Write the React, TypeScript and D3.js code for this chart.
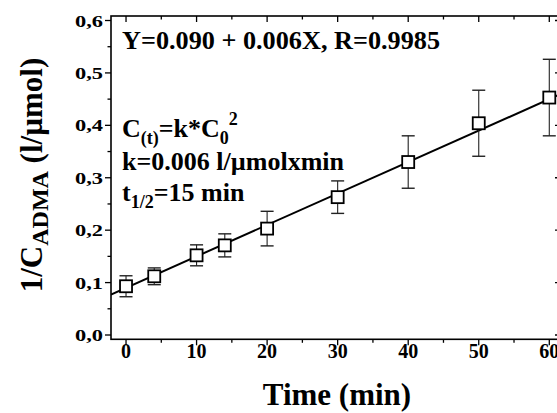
import React, { useEffect, useRef } from 'react';
import * as d3 from 'd3';

// Data
const times = [0, 4, 10, 14, 20, 30, 40, 50, 60];
const values = [0.093, 0.112, 0.152, 0.171, 0.203, 0.263, 0.33, 0.404, 0.453];
const errors = [0.02, 0.016, 0.02, 0.022, 0.033, 0.031, 0.05, 0.063, 0.073];
const fitIntercept = 0.09;
const fitSlope = 0.006;
const xTicks = [0, 10, 20, 30, 40, 50, 60];
const xMinor = [5, 15, 25, 35, 45, 55];
const yTicks = [0, 0.1, 0.2, 0.3, 0.4, 0.5, 0.6];
const yMinor = [0.05, 0.15, 0.25, 0.35, 0.45, 0.55];

const FONT = "'Liberation Serif', 'Times New Roman', serif";

const App = () => {
  const ref = useRef<SVGSVGElement>(null);

  useEffect(() => {
    const svg = d3.select(ref.current);
    svg.selectAll('*').remove();

    const left = 111, right = 561, top = 16, bottom = 339.3;
    const x = d3.scaleLinear().domain([-2.13, 61.66]).range([left, right]);
    const y = d3.scaleLinear().domain([-0.0082, 0.6086]).range([bottom, top]);

    // Frame
    svg.append('rect')
      .attr('x', left).attr('y', top)
      .attr('width', right - left).attr('height', bottom - top)
      .attr('fill', 'none').attr('stroke', '#000').attr('stroke-width', 1.6);

    // Ticks: outward on left/bottom, inward on top/right
    const tk = svg.append('g').attr('stroke', '#000').attr('stroke-width', 1.3);
    const xt = (vals: number[], len: number) => {
      vals.forEach(v => {
        tk.append('line').attr('x1', x(v)).attr('x2', x(v)).attr('y1', bottom).attr('y2', bottom + len);
        tk.append('line').attr('x1', x(v)).attr('x2', x(v)).attr('y1', top).attr('y2', top + len);
      });
    };
    const yt = (vals: number[], len: number) => {
      vals.forEach(v => {
        tk.append('line').attr('x1', left - len).attr('x2', left).attr('y1', y(v)).attr('y2', y(v));
        tk.append('line').attr('x1', right - len).attr('x2', right).attr('y1', y(v)).attr('y2', y(v));
      });
    };
    xt(xTicks, 6);
    xt(xMinor, 3.5);
    yt(yTicks, 6);
    yt(yMinor, 3.5);

    // Tick labels
    svg.append('g').selectAll('text').data(xTicks).enter().append('text')
      .attr('x', d => x(d)).attr('y', 358)
      .attr('text-anchor', 'middle')
      .attr('font-family', FONT).attr('font-weight', 'bold').attr('font-size', 20)
      .text(d => d);

    svg.append('g').selectAll('text').data(yTicks).enter().append('text')
      .attr('x', 103).attr('y', d => y(d) + 6)
      .attr('text-anchor', 'end')
      .attr('font-family', FONT).attr('font-weight', 'bold').attr('font-size', 17)
      .attr('textLength', 28).attr('lengthAdjust', 'spacingAndGlyphs')
      .text(d => d.toFixed(1).replace('.', ','));

    // Fit line
    const clipId = 'plotclip';
    svg.append('clipPath').attr('id', clipId).append('rect')
      .attr('x', left).attr('y', top).attr('width', right - left).attr('height', bottom - top);
    const [x0, x1] = x.domain();
    svg.append('line')
      .attr('clip-path', `url(#${clipId})`)
      .attr('x1', x(x0)).attr('y1', y(fitIntercept + fitSlope * x0))
      .attr('x2', x(x1)).attr('y2', y(fitIntercept + fitSlope * x1))
      .attr('stroke', '#000').attr('stroke-width', 2);

    // Error bars
    const eb = svg.append('g').attr('stroke', '#222');
    times.forEach((t, i) => {
      const cx = x(t);
      eb.append('line').attr('x1', cx).attr('x2', cx)
        .attr('y1', y(values[i] - errors[i])).attr('y2', y(values[i] + errors[i]))
        .attr('stroke-width', 1.1);
      [values[i] - errors[i], values[i] + errors[i]].forEach(v => {
        eb.append('line').attr('x1', cx - 6.5).attr('x2', cx + 6.5)
          .attr('y1', y(v)).attr('y2', y(v)).attr('stroke-width', 1.4);
      });
    });

    // Markers
    svg.append('g').selectAll('rect').data(times).enter().append('rect')
      .attr('x', d => x(d) - 6).attr('y', (d, i) => y(values[i]) - 6)
      .attr('width', 12).attr('height', 12)
      .attr('fill', '#fff').attr('stroke', '#000').attr('stroke-width', 1.8);

    // Annotations
    const ann = svg.append('g')
      .attr('font-family', FONT).attr('font-weight', 'bold').attr('fill', '#000');
    ann.append('text').attr('x', 122).attr('y', 49).attr('font-size', 25)
      .attr('textLength', 318).attr('lengthAdjust', 'spacingAndGlyphs')
      .text('Y=0.090 + 0.006X, R=0.9985');

    const l2 = ann.append('text').attr('x', 122).attr('y', 137).attr('font-size', 26);
    l2.append('tspan').text('C');
    l2.append('tspan').attr('font-size', 18).attr('dy', 7).text('(t)');
    l2.append('tspan').attr('dy', -7).text('=k*C');
    l2.append('tspan').attr('font-size', 18).attr('dy', 7).text('0');
    l2.append('tspan').attr('font-size', 18).attr('dy', -19).text('2');

    ann.append('text').attr('x', 122).attr('y', 170).attr('font-size', 26)
      .attr('textLength', 222).attr('lengthAdjust', 'spacingAndGlyphs')
      .text('k=0.006 l/\u00b5molxmin');

    const l4 = ann.append('text').attr('x', 122).attr('y', 201).attr('font-size', 26);
    l4.append('tspan').text('t');
    l4.append('tspan').attr('font-size', 18).attr('dy', 7).text('1/2');
    l4.append('tspan').attr('dy', -7).text('=15 min');

    // Axis titles
    svg.append('text')
      .attr('x', 337).attr('y', 405)
      .attr('text-anchor', 'middle')
      .attr('font-family', FONT).attr('font-weight', 'bold').attr('font-size', 31)
      .text('Time (min)');

    const yl = svg.append('text')
      .attr('transform', 'translate(42,175) rotate(-90)')
      .attr('text-anchor', 'middle')
      .attr('font-family', FONT).attr('font-weight', 'bold').attr('font-size', 31);
    yl.append('tspan').text('1/C');
    yl.append('tspan').attr('font-size', 24).attr('dy', 6).text('ADMA');
    yl.append('tspan').attr('dy', -6).text(' (l/\u00b5mol)');
  }, []);

  return (
    <svg ref={ref} width={557} height={413}
      style={{ position: 'absolute', left: 0, top: 0, background: '#fff' }} />
  );
};

export default App;
